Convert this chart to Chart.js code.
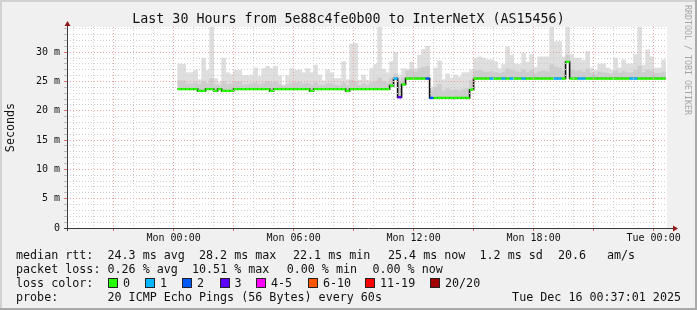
<!DOCTYPE html>
<html><head><meta charset="utf-8">
<script src="https://cdn.jsdelivr.net/npm/chart.js@4/dist/chart.umd.min.js"></script>
<style>
html,body{margin:0;padding:0;background:#f0f0f0;}
body{width:697px;height:310px;overflow:hidden;position:relative;font-family:"DejaVu Sans Mono",monospace;}
.edge{position:absolute;}
#c{position:absolute;left:0;top:0;}
.t{position:absolute;font-size:11.7px;line-height:14px;white-space:pre;color:#111;}
.box{position:absolute;width:8px;height:8px;border:1px solid #222;}
#title{position:absolute;left:0;top:11px;width:697px;text-align:center;font-size:13.3px;line-height:16px;white-space:pre;color:#111;}
#brand{position:absolute;left:683px;top:5px;writing-mode:vertical-rl;font-size:8.3px;line-height:10px;color:#a5a5a5;white-space:pre;}
</style></head>
<body>
<div class="edge" style="left:0;top:0;width:697px;height:2px;background:#d2d2d2"></div>
<div class="edge" style="left:0;top:0;width:2px;height:310px;background:#d2d2d2"></div>
<div class="edge" style="right:0;top:0;width:2px;height:310px;background:#a9a9a9"></div>
<div class="edge" style="left:0;bottom:0;width:697px;height:2px;background:#a9a9a9"></div>
<canvas id="c" width="697" height="310"></canvas>
<div id="title">Last 30 Hours from 5e88c4fe0b00 to InterNetX (AS15456)</div>
<div id="brand">RRDTOOL / TOBI OETIKER</div>
<div id="legend"></div>
<script>
// ---- data (times in hours relative to Mon 00:00; one column = 0.2 h) ----
const startHour = 0.2;
const stepHour = 0.2;
const medianMs = [
23.7,23.7,23.7,23.7,23.7,23.4,23.4,23.7,23.7,23.4,
23.7,23.4,23.4,23.4,23.7,23.7,23.7,23.7,23.7,23.7,
23.7,23.7,23.7,23.4,23.7,23.7,23.7,23.7,23.7,23.7,
23.7,23.7,23.7,23.4,23.7,23.7,23.7,23.7,23.7,23.7,
23.7,23.7,23.4,23.7,23.7,23.7,23.7,23.7,23.7,23.7,
23.7,23.7,23.7,24.3,25.5,22.3,24.5,25.5,25.5,25.5,
25.5,25.5,25.5,22.2,22.2,22.2,22.2,22.2,22.2,22.2,
22.2,22.2,22.2,23.6,25.5,25.5,25.5,25.5,25.5,25.5,
25.5,25.5,25.5,25.5,25.5,25.5,25.5,25.5,25.5,25.5,
25.5,25.5,25.5,25.5,25.5,25.5,25.5,28.35,25.5,25.5,
25.5,25.5,25.5,25.5,25.5,25.5,25.5,25.5,25.5,25.5,
25.5,25.5,25.5,25.5,25.5,25.5,25.5,25.5,25.5,25.5,
25.5,25.5];
const innerMs = [
25.1,25.1,24.6,24.6,24.8,24.5,25.0,24.6,25.5,24.4,
24.3,25.0,24.5,24.6,24.9,24.9,24.4,24.5,24.6,24.8,
24.5,24.7,25.0,24.8,24.9,24.5,24.2,24.5,24.7,24.8,
24.9,24.6,24.7,24.5,24.8,24.4,24.3,24.6,24.7,24.4,
24.3,24.8,24.3,25.2,25.0,24.3,24.6,24.4,24.8,25.0,
25.6,24.9,24.7,25.6,26.3,25.0,25.7,26.8,27.0,26.6,
27.2,27.4,27.6,23.3,24.0,24.5,23.4,23.8,23.5,23.6,
23.4,23.7,23.8,25.2,26.8,26.9,26.7,26.6,26.7,26.5,
26.4,26.6,27.2,26.9,26.7,26.6,27.0,26.5,26.9,26.4,
26.7,26.8,26.7,27.9,27.5,27.3,26.8,29.5,27.0,26.8,
26.8,26.6,27.1,26.4,26.3,26.6,26.5,26.4,26.3,26.8,
26.4,26.7,26.5,26.5,26.9,27.6,26.5,27.0,26.8,26.4,
26.4,26.6];
const maxMs = [
27.95,27.95,26.5,26.5,26.9,25.3,29.0,26.9,34.3,25.5,
24.8,29.0,26.5,26.2,26.9,26.9,26.0,26.0,26.1,27.3,
25.9,27.2,27.6,27.2,27.6,26.0,24.4,26.0,27.2,26.9,
27.0,26.5,27.2,26.5,27.8,26.1,25.1,27.0,26.5,25.5,
25.5,28.4,25.3,31.4,31.5,25.2,26.1,25.2,27.2,27.9,
34.3,27.1,26.5,28.4,30.0,26.1,27.2,27.1,28.3,27.2,
29.5,30.5,31.0,24.1,27.3,28.5,25.3,26.3,25.6,26.1,
25.8,26.5,26.5,27.0,29.0,29.2,29.0,28.7,28.7,28.4,
27.2,27.9,30.9,29.5,28.0,27.9,29.8,28.3,29.6,27.4,
29.2,29.2,29.2,34.3,31.8,31.8,29.2,34.3,29.6,29.0,
29.0,28.6,30.1,27.3,26.9,28.0,28.0,27.3,26.9,29.0,
27.3,28.7,28.0,28.0,29.6,34.3,27.8,30.4,29.2,27.3,
27.3,28.7];
const lossPings = [
0,0,0,0,0,0,0,0,0,0, 0,0,0,0,0,0,0,0,0,0,
0,0,0,0,0,0,0,0,0,0, 0,0,0,0,0,0,0,0,0,0,
0,0,0,0,0,0,0,0,0,0, 0,0,0,0,1,3,0,0,0,0,
0,0,2,2,0,0,0,0,0,0, 0,0,0,0,0,0,0,0,1,0,
0,1,0,1,0,0,1,0,0,0, 0,0,0,0,1,1,0,0,0,0,
1,1,0,0,0,0,0,0,0,0, 0,0,0,1,1,0,0,0,0,0,
0,0];
const xTickHours = [0, 6, 12, 18, 24];
const xTickLabels = ['Mon 00:00','Mon 06:00','Mon 12:00','Mon 18:00','Tue 00:00'];
const yLabelValues = [0, 5, 10, 15, 20, 25, 30];
const yTickLabels = ['0','5 m','10 m','15 m','20 m','25 m','30 m'];
const lossUpper = [0, 1, 2, 3, 5, 10, 19, 20];
const lossColors = ['#26ff00','#00b8ff','#0059ff','#5e00ff','#ff00ff','#ff5500','#ff0000','#a10000'];
const lossLabels = ['0','1','2','3','4-5','6-10','11-19','20/20'];

// ---- layout/text ----
const FONT = '"DejaVu Sans Mono", monospace';
const legendItems = [
 [16,248,'median rtt:'],[107.5,248,'24.3 ms avg'],[199,248,'28.2 ms max'],[293,248,'22.1 ms min'],[388,248,'25.4 ms now'],[479.5,248,'1.2 ms sd'],[558,248,'20.6'],[607,248,'am/s'],
 [16,262,'packet loss:'],[107.5,262,'0.26 % avg'],[192,262,'10.51 % max'],[286.7,262,'0.00 % min'],[372.4,262,'0.00 % now'],
 [16,276,'loss color:'],
 [16,290,'probe:'],[107.5,290,'20 ICMP Echo Pings (56 Bytes) every 60s']
];
const boxX = [108,145,182,219.5,256,308,365,430];
const lg = document.getElementById('legend');
legendItems.forEach(([x,y,s])=>{const d=document.createElement('div');d.className='t';d.style.left=x+'px';d.style.top=y+'px';d.textContent=s;lg.appendChild(d);});
lossLabels.forEach((s,i)=>{
  const b=document.createElement('div');b.className='box';b.style.left=boxX[i]+'px';b.style.top='278px';b.style.background=lossColors[i];lg.appendChild(b);
  const d=document.createElement('div');d.className='t';d.style.left=(boxX[i]+15)+'px';d.style.top='276px';d.textContent=s;lg.appendChild(d);
});
const ts=document.createElement('div');ts.className='t';ts.style.right='16px';ts.style.top='290px';ts.textContent='Tue Dec 16 00:37:01 2025';lg.appendChild(ts);

// ---- chart data ----
function colStart(i){return startHour + i*stepHour;}
function lossColor(l){for(let k=0;k<lossUpper.length;k++){if(l<=lossUpper[k])return lossColors[k];}return lossColors[lossColors.length-1];}
const n = medianMs.length;
const outerBars = maxMs.map((v,i)=>({x: colStart(i)+stepHour/2, y:[innerMs[i], v]}));
const innerBars = innerMs.map((v,i)=>({x: colStart(i)+stepHour/2, y:[medianMs[i], v]}));
const blackLine = medianMs.map((v,i)=>({x: colStart(i), y: v}));
blackLine.push({x: colStart(n), y: medianMs[n-1]});
const colorSegs = [];
medianMs.forEach((v,i)=>{colorSegs.push({x:colStart(i),y:v},{x:colStart(i+1),y:v},{x:colStart(i+1),y:null});});

const majorX = h => ((h%3)+3)%3===0;
const plugin = {
  id:'rrd',
  beforeDraw(chart){
    const {ctx, chartArea:a} = chart;
    ctx.save(); ctx.fillStyle='#ffffff'; ctx.fillRect(a.left, a.top, a.right-a.left, a.bottom-a.top); ctx.restore();
  },
  afterDraw(chart){
    const {ctx, chartArea:a} = chart;
    ctx.save();
    ctx.strokeStyle='#3a3a3a'; ctx.lineWidth=1;
    ctx.beginPath();
    ctx.moveTo(a.left+0.5, a.bottom+3); ctx.lineTo(a.left+0.5, a.top-1);
    ctx.moveTo(a.left-3, a.bottom+0.5); ctx.lineTo(a.right+6, a.bottom+0.5);
    ctx.stroke();
    ctx.fillStyle='#8e1a1a';
    ctx.beginPath(); ctx.moveTo(a.left+0.5, a.top-6); ctx.lineTo(a.left-2.5, a.top-1); ctx.lineTo(a.left+3.5, a.top-1); ctx.closePath(); ctx.fill();
    ctx.beginPath(); ctx.moveTo(a.right+11, a.bottom+0.5); ctx.lineTo(a.right+6, a.bottom-2.5); ctx.lineTo(a.right+6, a.bottom+3.5); ctx.closePath(); ctx.fill();
    ctx.restore();
  }
};

new Chart(document.getElementById('c'), {
  type:'line',
  data:{datasets:[
    {type:'line', data:colorSegs, order:0, borderWidth:2.4, pointRadius:0, spanGaps:false, borderColor:lossColors[0],
     segment:{borderColor: c => lossColor(lossPings[Math.floor(c.p0DataIndex/3)])}},
    {type:'line', data:blackLine, order:1, borderWidth:1.6, pointRadius:0, stepped:true, borderColor:'#111111', borderJoinStyle:'miter'},
    {type:'bar', data:innerBars, order:2, grouped:false, backgroundColor:'#cdcdcd', borderWidth:0, barPercentage:1, categoryPercentage:1},
    {type:'bar', data:outerBars, order:3, grouped:false, backgroundColor:'#dedede', borderWidth:0, barPercentage:1, categoryPercentage:1}
  ]},
  options:{
    responsive:false, animation:false, devicePixelRatio:1,
    layout:{padding:{top:27,right:30,bottom:62,left:0}},
    plugins:{legend:{display:false}, tooltip:{enabled:false}, title:{display:false}},
    scales:{
      x:{type:'linear', min:-5.33, max:24.67, offset:false,
        afterBuildTicks(s){const t=[];for(let h=-5;h<=24;h++)t.push({value:h});s.ticks=t;},
        afterFit(s){s.height=20;},
        grid:{z:1, offset:false, drawTicks:true, tickLength:3,
          color:c=>majorX(c.tick.value)?'#eba2a2':'#cfcfcf',
          tickColor:c=>majorX(c.tick.value)?'#e07070':'rgba(0,0,0,0)'},
        border:{display:false, dash:[1,2]},
        ticks:{autoSkip:false, maxRotation:0, minRotation:0, padding:1, color:'#111', font:{family:FONT,size:10},
          callback:v=>{const k=xTickHours.indexOf(v);return k>=0?xTickLabels[k]:'';}}
      },
      y:{type:'linear', min:0, max:34.3,
        afterBuildTicks(s){const t=[];for(let v=0;v<=34;v++)t.push({value:v});s.ticks=t;},
        afterFit(s){s.width=67;},
        grid:{z:1, drawTicks:true, tickLength:3,
          color:c=>c.tick.value===0?'rgba(0,0,0,0)':(c.tick.value%5===0?'#eba2a2':'#cfcfcf'),
          tickColor:c=>c.tick.value%5===0?'#e07070':'#bdbdbd'},
        border:{display:false, dash:[1,2]},
        ticks:{autoSkip:false, padding:4, color:'#111', font:{family:FONT,size:10},
          callback:v=>{const k=yLabelValues.indexOf(v);return k>=0?yTickLabels[k]:'';}},
        title:{display:true, text:'Seconds', color:'#111', font:{family:FONT,size:11.7}, padding:{top:4,bottom:0}}
      }
    }
  },
  plugins:[plugin]
});
</script>
</body></html>
